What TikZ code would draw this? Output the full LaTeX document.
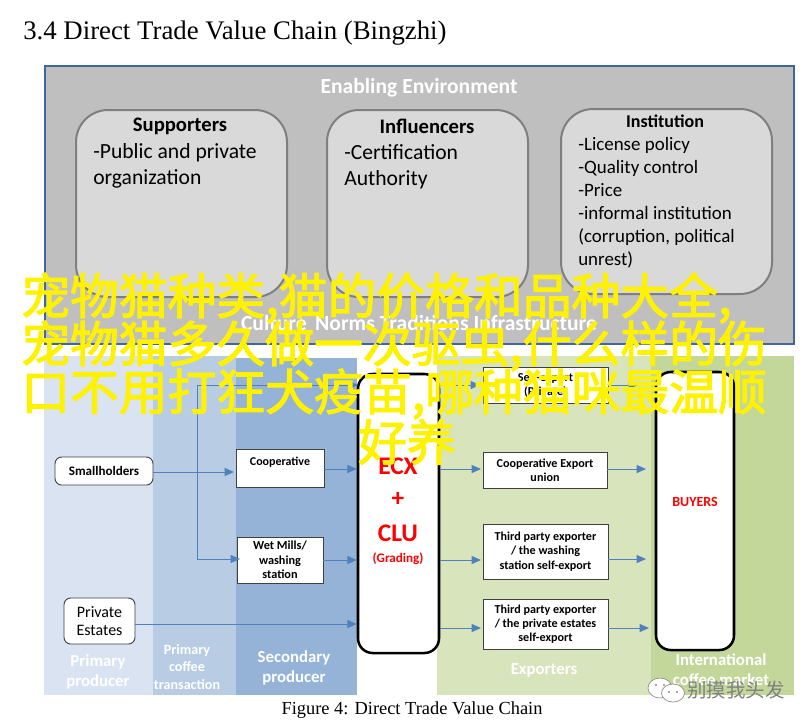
\documentclass[tikz,border=0pt]{standalone}
\usepackage{fontspec}
\setmainfont{Carlito}
\newfontfamily\serifface{Liberation Serif}
\newfontfamily\cjkface{Noto Sans CJK SC}
\newfontfamily\cjkheavy[FakeBold=2.4]{Noto Sans CJK SC}
\usetikzlibrary{arrows.meta}
\definecolor{frameblue}{HTML}{41669A}
\definecolor{envgray}{HTML}{BFBFBF}
\definecolor{cardgray}{HTML}{D9D9D9}
\definecolor{cardedge}{HTML}{7F7F7F}
\definecolor{colone}{HTML}{DAE3F1}
\definecolor{coltwo}{HTML}{B8CCE4}
\definecolor{colthree}{HTML}{95B3D7}
\definecolor{colfour}{HTML}{D8E4BC}
\definecolor{colfive}{HTML}{C4D79B}
\definecolor{flowblue}{HTML}{4F81BD}
\newcommand{\pxfont}[2]{\fontsize{#1}{#2}\selectfont}
\tikzset{
	card/.style={draw=cardedge,line width=1.5pt,fill=cardgray,rounded corners=24pt,inner sep=0pt},
	cardtext/.style={align=left,anchor=north west,inner sep=0pt,text=black},
	actor/.style={draw=black!75,line width=0.7pt,fill=white,inner sep=0pt,align=center,text=black},
	softactor/.style={actor,rounded corners=5pt},
	hub/.style={draw=black,line width=1.9pt,fill=white,rounded corners=11pt,inner sep=0pt},
	flow/.style={draw=flowblue,line width=0.7pt,-{Stealth[length=7pt,width=6pt,inset=0pt]}},
	bandlabel/.style={text=white,align=center,inner sep=0pt,font=\bfseries\pxfont{12.6}{15}},
	banner/.style={text=yellow,inner sep=0pt,font=\cjkheavy\pxfont{36.6}{37}}
}
\begin{document}
\begin{tikzpicture}[x=0.75pt,y=-0.75pt]
	\useasboundingbox (0,0) rectangle (812,726);
	\fill[white] (0,0) rectangle (812,726);
	% headings
	\node[font=\serifface\pxfont{20.1}{24},anchor=west,inner sep=0pt] (title) at (23,33) {3.4 Direct Trade Value Chain (Bingzhi)};
	\node[font=\serifface\pxfont{13.8}{16},inner sep=0pt] (caption) at (412,710) {Figure 4: Direct Trade Value Chain};
	% enabling environment
	\draw[draw=frameblue,line width=1.5pt,fill=envgray] (45,66) rectangle (794,344);
	\node[bandlabel,font=\bfseries\pxfont{16.2}{18}] (enabling) at (419,88) {Enabling Environment};
	\node[bandlabel,font=\bfseries\pxfont{16.2}{18}] (culture) at (419,323) {Culture\, Norms Traditions Infrastructure};
	\draw[card] (76,110) rectangle (287,297);
	\draw[card] (327,110) rectangle (528,297);
	\draw[card] (561,109) rectangle (772,294);
	\node[font=\bfseries\pxfont{15.5}{18},inner sep=0pt] (supporters) at (180,126) {Supporters};
	\node[cardtext,font=\pxfont{16.2}{19.9}] (supporttext) at (93,143) {-Public and private\\organization};
	\node[font=\bfseries\pxfont{15.5}{18},inner sep=0pt] (influencers) at (427,126) {Influencers};
	\node[cardtext,font=\pxfont{16.2}{19.9}] (influencetext) at (344,144) {-Certification\\Authority};
	\node[font=\bfseries\pxfont{13.5}{16},inner sep=0pt] (institution) at (665,121) {Institution};
	\node[cardtext,font=\pxfont{14.2}{17.3}] (institutiontext) at (578,137) {-License policy\\-Quality control\\-Price\\-informal institution\\(corruption, political\\unrest)};
	% value chain bands
	\fill[colone] (44,356) rectangle (153,695);
	\fill[coltwo] (153,356) rectangle (236,695);
	\fill[colthree] (236,358) rectangle (357,695);
	\fill[colfour] (437,356) rectangle (651,695);
	\fill[colfive] (651,356) rectangle (794,695);
	\node[bandlabel] (primary) at (98,672) {Primary\\producer};
	\node[bandlabel,font=\bfseries\pxfont{10.6}{13}] (transaction) at (187,667) {Primary\\coffee\\transaction};
	\node[bandlabel] (secondary) at (294,668) {Secondary\\producer};
	\node[bandlabel] (exporters) at (544,670) {Exporters};
	\node[bandlabel] (market) at (721,670) {International\\coffee market};
	% hubs
	\node[hub,minimum width=81*0.75pt,minimum height=279*0.75pt] (ecx) at (398.5,513.5) {};
	\node[hub,minimum width=78*0.75pt,minimum height=278*0.75pt] (buyers) at (695,511) {};
	\node[text=red,font=\bfseries\pxfont{19}{20},inner sep=0pt] (ecxlabel) at (398,466) {ECX};
	\node[text=red,font=\bfseries\pxfont{19}{20},inner sep=0pt] (plus) at (398,499) {+};
	\node[text=red,font=\bfseries\pxfont{19}{20},inner sep=0pt] (clu) at (398,533) {CLU};
	\node[text=red,font=\bfseries\pxfont{9.8}{11},inner sep=0pt] (grading) at (398,559) {(Grading)};
	\node[text=red,font=\bfseries\pxfont{10.5}{11},inner sep=0pt] (buyerslabel) at (695,502) {BUYERS};
	% actors
	\node[softactor,font=\bfseries\pxfont{9.8}{11},minimum width=98*0.75pt,minimum height=28*0.75pt] (smallholders) at (104,471) {Smallholders};
	\node[softactor,font=\pxfont{12}{13.5},minimum width=71*0.75pt,minimum height=46*0.75pt] (estates) at (99.5,621) {Private\\Estates};
	\node[actor,font=\bfseries\pxfont{9}{11},minimum width=88*0.75pt,minimum height=38*0.75pt,text depth=10.5pt] (cooperative) at (280,468) {Cooperative};
	\node[actor,font=\bfseries\pxfont{9.2}{10.9},minimum width=86*0.75pt,minimum height=46*0.75pt] (wetmills) at (280,560) {Wet Mills/\\washing\\station};
	\node[actor,font=\bfseries\pxfont{9.1}{10.7},minimum width=125*0.75pt,minimum height=36*0.75pt] (selfexport) at (545.5,385) {Self-export\\(Private)};
	\node[actor,font=\bfseries\pxfont{9.1}{10.7},minimum width=124*0.75pt,minimum height=36*0.75pt] (union) at (545,470) {Cooperative Export\\union};
	\node[actor,font=\bfseries\pxfont{9.1}{10.7},minimum width=125*0.75pt,minimum height=55*0.75pt] (thirdwash) at (545.5,551.5) {Third party exporter\\/ the washing\\station self-export};
	\node[actor,font=\bfseries\pxfont{9.1}{10.7},minimum width=125*0.75pt,minimum height=50*0.75pt] (thirdprivate) at (545.5,624) {Third party exporter\\/ the private estates\\self-export};
	% connectors
	\coordinate (branch) at (197,472);
	\coordinate (branchtop) at (197,385);
	\coordinate (branchlow) at (197,559);
	\coordinate (ecxtop) at (358,385);
	\coordinate (ecxout) at (439,385);
	\draw[flow] (smallholders.east |- branch) -- (234,472);
	\draw[flow] (branch) -- (branchtop) -- (ecxtop);
	\draw[flow] (branch) -- (branchlow) -- (240,559);
	\draw[flow] (cooperative.east |- 0,469) -- (ecx.west |- 0,469);
	\draw[flow] (wetmills.east) -- (ecx.west |- wetmills.east);
	\draw[flow] (estates.east |- 0,624) -- (ecx.west |- 0,624);
	\draw[flow] (ecxout) -- (480,385);
	\draw[flow] (ecx.east |- 0,469) -- (481,469);
	\draw[flow] (ecx.east |- 0,560) -- (481,560);
	\draw[flow] (ecx.east |- 0,628) -- (481,628);
	\draw[flow] (selfexport.east) -- (638,385);
	\draw[flow] (union.east |- 0,469) -- (646,469);
	\draw[flow] (thirdwash.east |- 0,559) -- (646,559);
	\draw[flow] (thirdprivate.east |- 0,628) -- (649,628);
	% overlay text
	\node[banner,anchor=west] (bannerone) at (21,298) {宠物猫种类,猫的价格和品种大全,};
	\node[banner,anchor=west] (bannertwo) at (21,346) {宠物猫多久做一次驱虫,什么样的伤};
	\node[banner,anchor=west] (bannerthree) at (21,394) {口不用打狂犬疫苗,哪种猫咪最温顺};
	\node[banner] (bannerfour) at (407,442) {好养};
	% watermark
	\draw[draw=black!45,line width=0.5pt,fill=white] (660,688) ellipse (12 and 10);
	\draw[draw=black!45,line width=0.5pt,fill=white] (673,693) ellipse (11.5 and 9);
	\foreach \dotx/\doty in {656/685,664/685,669/692,677/692} \fill[black!45] (\dotx,\doty) circle (1.2);
	\node[text=black!50,font=\cjkface\pxfont{14.6}{16},inner sep=0pt] (marklabel) at (736,690) {别摸我头发};
\end{tikzpicture}
\end{document}
